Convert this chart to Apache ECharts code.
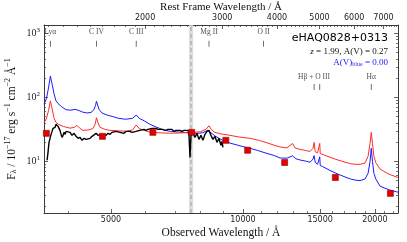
<!DOCTYPE html>
<html><head><meta charset="utf-8">
<script src="https://cdn.jsdelivr.net/npm/echarts@6/dist/echarts.min.js"></script>
<style>html,body{margin:0;padding:0;background:#fff}#c{width:407px;height:242px}</style>
</head><body><div id="c"></div>
<script>
// ---------- data ----------
const REDSHIFT = 1.99;
const AV_RED = 0.27, AV_BLUE = 0.00;
const OBJECT_NAME = 'eHAQ0828+0313';

const obsMajorTicks = [5000, 10000, 15000, 20000];
const obsMinorTicks = [4000, 6000, 7000, 8000, 9000, 11000, 12000, 13000, 14000, 16000, 17000, 18000, 19000, 21000, 22000];
const restMajorTicks = [2000, 3000, 4000, 5000, 6000, 7000];
const fluxMajorTicks = [10, 100, 1000];

// blue model (A(V)=0.00)
const blueWave = [3516,3560,3600,3636,3670,3705,3740,3785,3850,3950,4050,4140,4180,4230,4300,4400,4500,4570,4610,4632,4660,4700,4770,4890,5050,5200,5400,5600,5708,5800,5950,6130,6300,6470,6640,6820,7000,7180,7400,7650,7900,8100,8300,8366,8450,8630,8860,9100,9340,9700,10000,10375,10800,11346,11800,12147,12600,12977,13200,13494,13900,14223,14450,14534,14620,14800,14930,14971,15010,15200,15800,16400,17095,17600,18018,18500,18991,19300,19500,19623,19750,19900,20100,20549,21095,21663,22584];
const blueFlux = [78,95,140,215,160,115,90,80,72,64,63,65,68,62,59,57,58,64,75,87,76,64,57,53,50,47,45.5,47,53,47,43,38,35,32.5,30.5,29.5,29,28.6,28.2,27.6,27.5,28,30.5,31,28,25,22.5,20.5,19.3,18,17,16,14.8,13.3,12.3,11.3,11.2,12.2,11,10.5,10.1,9.7,10.8,12.3,9.6,9.0,9.2,11.8,8.6,8.3,7.2,6.4,5.7,5.3,5.1,5.0,5.3,6.5,10,16,10,6.5,5.3,4.1,3.8,3.55,3.3];

// red model (A(V)=0.27)
const redWave = [3516,3560,3600,3636,3670,3705,3740,3800,3900,4030,4120,4180,4240,4312,4450,4545,4600,4632,4670,4720,4850,4970,5200,5436,5600,5708,5800,5950,6136,6400,6813,7200,7650,8000,8250,8366,8480,8630,8860,9340,9800,10375,10900,11346,11800,12147,12600,12977,13150,13494,13900,14223,14450,14534,14620,14800,14930,14971,15010,15300,15800,16400,17095,17600,18018,18500,18991,19300,19500,19623,19750,19900,20100,20549,21095,21663,22584];
const redFlux = [40,46,62,88,66,48,41,37.5,35,33,34,36.5,33,30.5,31,32.5,38,48,40,34,31.5,30.5,30,29.5,31,37,32.5,30.5,28.6,28,27.5,27.8,28.3,29,32,36,31,28.4,27,25.5,24,22.9,21.2,19.5,17.8,16.8,16.2,19,16.2,15.4,14.8,14.3,16,19.8,14.1,13.6,14,19.1,13.2,12.6,11.6,10.6,9.7,9.2,9.0,9.0,9.4,12,19,28.4,19,12,9.5,7.6,6.8,6.2,5.6];

// observed spectrum
const specWave = [3573,3591,3610,3630,3649,3668,3687,3707,3726,3746,3766,3785,3805,3825,3846,3866,3886,3907,3927,3948,3989,4032,4074,4118,4161,4205,4250,4294,4340,4386,4432,4479,4527,4574,4622,4671,4719,4769,4819,4870,4922,4974,5026,5079,5133,5186,5242,5297,5352,5409,5466,5523,5582,5640,5700,5760,5822,5883,5945,6008,6072,6136,6201,6266,6333,6400,6467,6536,6605,6674,6745,6816,6888,6961,7035,7109,7184,7260,7337,7414,7493,7532,7572,7610,7650,7690,7771,7853,7936,8020,8105,8190,8277,8365,8453,8542,8633,8724,8816,8908,8955,9003];
const specFlux = [10.4,13.8,19.8,22.9,26.4,29.4,32.8,35.2,34,37.9,39.2,35.2,36.5,30.5,26.4,23.7,25.5,28.4,26.4,29.4,27.4,28.4,25.5,27.4,24.6,22.9,23.7,21.3,22.9,22.1,23.7,22.9,24.6,25.5,27.4,25.5,27.4,26.4,27.4,25.5,27.4,26.4,28.4,27.4,29.4,27.4,28.4,29.4,27.4,29.4,28.4,29.4,28.4,30.5,29.4,28.4,30.5,29.4,31.6,30.5,31.6,30.5,32.8,31.6,32.8,31.6,32.8,31.6,32.8,30.5,31.6,30.5,31.6,29.4,30.5,29.4,30.5,29.4,30.5,29.4,30.5,25.5,11.5,24.6,29.4,27.4,23.7,27.4,22.1,25.5,21.3,26.4,29.4,30.5,25.5,22.1,24.6,19.8,22.9,17.8,20.5,16.5];

// photometry
const photWave = [3560,4780,6230,7640,9140,10250,12450,16250,21700];
const photFlux = [27.4,24.6,28.4,28.4,21.3,14.9,9.6,5.6,3.16];

// emission lines (rest frame, Å)
const lineNamesTop = ['Lyα','C IV','C III','Mg II','O II'];
const lineRestTop = [1216,1549,1909,2798,3727];
const lineNamesLow = ['Hβ + O III','Hα'];
const lineRestLowLabel = [4861,6563];
const lineRestLowTicks = [4861,5007,6563];

// telluric band (observed Å)
const bandRange = [7530, 7700];

// ---------- layout constants ----------
const X_MIN = 3516, X_MAX = 22584, Y_MIN = 1.56, Y_MAX = 1350;
const ROW1_LABEL_F = 1040, ROW1_TICK_F = 690, ROW2_LABEL_F = 205, ROW2_TICK_F = 145;

const L = Math.log10;
const restMinorTicks = [];
for (let w = 1200; w <= 7600; w += 100) if (restMajorTicks.indexOf(w) < 0) restMinorTicks.push(w);
const fluxMinorTicks = [];
[1,10,100].forEach(d => { for (let k = 2; k <= 9; k++) fluxMinorTicks.push(k*d); });

const zipLog = (a, b) => a.map((v, i) => [L(v), L(b[i])]);
const z1 = 1 + REDSHIFT;
const axisColor = '#3a3a3a';
const sans = 'DejaVu Sans';
const serif = 'Liberation Serif';
const unLog = v => String(Math.round(Math.pow(10, v)));

function tick(vals, len, w) {
  return { show: true, inside: true, length: len, customValues: vals.map(L), lineStyle: { color: axisColor, width: w } };
}
function xAx(opts) {
  return Object.assign({
    type: 'value', min: L(X_MIN), max: L(X_MAX), position: 'bottom', nameMoveOverlap: false,
    axisLine: { show: true, lineStyle: { color: axisColor, width: 1 } },
    splitLine: { show: false }, axisLabel: { show: false }
  }, opts);
}
function yAx(opts) {
  return Object.assign({
    type: 'value', min: L(Y_MIN), max: L(Y_MAX), position: 'left', nameMoveOverlap: false,
    axisLine: { show: true, lineStyle: { color: axisColor, width: 1 } },
    splitLine: { show: false }, axisLabel: { show: false }
  }, opts);
}

const supRich = {
  a: { fontFamily: serif, fontSize: 10, color: '#222' },
  b: { fontFamily: serif, fontSize: 7, color: '#222', padding: [0, 0, 7, 0] }
};

const option = {
  animation: false,
  backgroundColor: '#fff',
  grid: { left: 44, right: 9, top: 25, bottom: 29, containLabel: false, outerBoundsMode: 'none' },
  xAxis: [
    xAx({
      axisTick: tick(obsMajorTicks, 4, 0.8),
      axisLabel: { show: true, customValues: obsMajorTicks.map(L), formatter: unLog, fontFamily: sans, fontSize: 8, color: '#222', margin: 3 },
      name: 'Observed Wavelength / Å', nameLocation: 'middle', nameGap: 14,
      nameTextStyle: { fontFamily: serif, fontSize: 11.5, color: '#111' }
    }),
    xAx({ axisLine: { show: false }, axisTick: tick(obsMinorTicks, 2, 0.7) }),
    xAx({
      position: 'top', min: L(X_MIN / z1), max: L(X_MAX / z1),
      axisTick: tick(restMajorTicks, 4, 0.8),
      axisLabel: { show: true, customValues: restMajorTicks.map(L), formatter: unLog, fontFamily: sans, fontSize: 8, color: '#222', margin: 3 },
      name: 'Rest Frame Wavelength / Å', nameLocation: 'middle', nameGap: 12,
      nameTextStyle: { fontFamily: serif, fontSize: 11, color: '#111' }
    }),
    xAx({ position: 'top', min: L(X_MIN / z1), max: L(X_MAX / z1), axisLine: { show: false },
      axisTick: tick(restMinorTicks, 2, 0.7) })
  ],
  yAxis: [
    yAx({
      axisTick: tick(fluxMajorTicks, 4, 0.8),
      axisLabel: { show: true, customValues: fluxMajorTicks.map(L), margin: 4,
        formatter: v => '{a|10}{b|' + Math.round(v) + '}', rich: supRich },
      name: '{t|F}{s|λ}{t| / 10}{p|−17}{t| erg s}{p|−1}{t| cm}{p|−2}{t| Å}{p|−1}',
      nameLocation: 'middle', nameGap: 25, nameRotate: 90,
      nameTextStyle: { rich: {
        t: { fontFamily: serif, fontSize: 11.5, color: '#111' },
        s: { fontFamily: serif, fontSize: 8, color: '#111', padding: [5, 0, 0, 0] },
        p: { fontFamily: serif, fontSize: 8, color: '#111', padding: [0, 0, 7, 0] }
      } }
    }),
    yAx({ axisLine: { show: false }, axisTick: tick(fluxMinorTicks, 2, 0.7) }),
    yAx({ position: 'right', axisTick: tick(fluxMajorTicks, 4, 0.8) }),
    yAx({ position: 'right', axisLine: { show: false }, axisTick: tick(fluxMinorTicks, 2, 0.7) })
  ],
  series: [
    {
      type: 'line', name: 'blue', data: zipLog(blueWave, blueFlux), showSymbol: false, symbol: 'none',
      lineStyle: { color: '#1a1aff', width: 1 }, z: 3,
      markArea: { silent: true, itemStyle: { color: 'rgba(215,215,215,0.8)' },
        data: [[{ xAxis: L(bandRange[0]) }, { xAxis: L(bandRange[1]) }]] },
      markLine: { silent: true, symbol: 'none', label: { show: false },
        lineStyle: { color: 'rgba(185,185,185,0.9)', width: 2, type: [4, 3] },
        data: [{ xAxis: L(Math.sqrt(bandRange[0] * bandRange[1])) }] }
    },
    { type: 'line', name: 'red', data: zipLog(redWave, redFlux), showSymbol: false, symbol: 'none',
      lineStyle: { color: '#ff2a2a', width: 1 }, z: 4 },
    { type: 'line', name: 'obs', data: zipLog(specWave, specFlux), showSymbol: false, symbol: 'none',
      lineStyle: { color: '#000', width: 1.4 }, z: 5 },
    { type: 'scatter', name: 'phot', data: zipLog(photWave, photFlux), symbol: 'rect', symbolSize: 6,
      itemStyle: { color: '#e60000', borderColor: '#8a0000', borderWidth: 0.6, opacity: 1 }, z: 6 },
    // emission line labels
    { type: 'scatter', name: 'lineLabels', symbolSize: 1, itemStyle: { color: 'rgba(0,0,0,0)' }, z: 7,
      label: { show: true, position: 'inside', formatter: p => p.name, fontFamily: serif, fontSize: 7.5, color: '#222' },
      data: lineNamesTop.map((n, i) => ({ name: n, value: [L(lineRestTop[i] * z1), L(ROW1_LABEL_F)] }))
        .concat(lineNamesLow.map((n, i) => ({ name: n, value: [L(lineRestLowLabel[i] * z1), L(ROW2_LABEL_F)] }))) },
    // emission line tick marks
    { type: 'scatter', name: 'lineTicks', symbol: 'rect', symbolSize: [0.8, 6], itemStyle: { color: '#222' }, z: 7,
      data: lineRestTop.map(w => [L(w * z1), L(ROW1_TICK_F)]).concat(lineRestLowTicks.map(w => [L(w * z1), L(ROW2_TICK_F)])) }
  ],
  graphic: [
    { type: 'text', right: 19, top: 33, style: { text: OBJECT_NAME, font: '11px "DejaVu Sans"', fill: '#000' } },
    { type: 'text', right: 19, top: 47, style: {
      text: '{i|z} = 1.99, A(V) = ' + AV_RED.toFixed(2),
      font: '9px "Liberation Serif"', fill: '#111',
      rich: { i: { fontFamily: serif, fontStyle: 'italic', fontSize: 9, fill: '#111', color: '#111' } } } },
    { type: 'text', right: 19, top: 58, style: {
      text: 'A(V){s|blue} = ' + AV_BLUE.toFixed(2),
      font: '9px "Liberation Serif"', fill: '#1a1aff',
      rich: { s: { fontFamily: serif, fontSize: 6, color: '#1a1aff', fill: '#1a1aff', padding: [4, 0, 0, 0] } } } }
  ]
};

const chart = echarts.init(document.getElementById('c'), null, { renderer: 'canvas' });
chart.setOption(option);
</script>
</body></html>
